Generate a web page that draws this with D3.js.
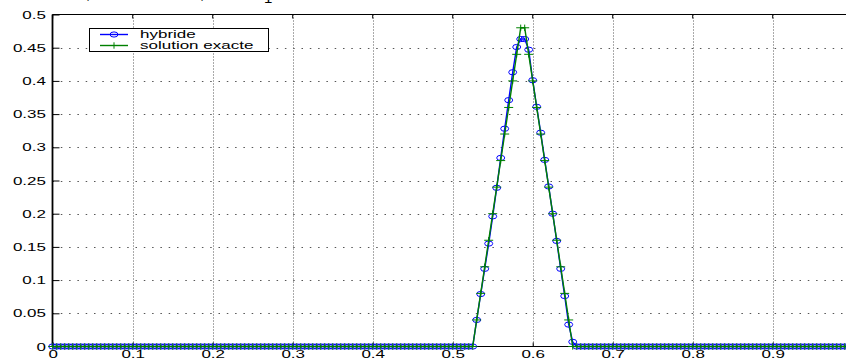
<!DOCTYPE html>
<html>
<head>
<meta charset="utf-8">
<script src="https://cdn.jsdelivr.net/npm/d3@7"></script>
<style>
  html, body { margin: 0; padding: 0; background: #fff; }
  svg { display: block; }
  text { font-family: "Liberation Sans", Arial, Helvetica, sans-serif; }
</style>
</head>
<body>
<svg id="chart" width="846" height="358"></svg>
<script>
// Sampling grid of the profile
const sampleStep = 0.005;
const sampleCount = 201;            // x = 0 … 1
const bumpStart = 0.525;            // first sample of the non-zero part

// Numerical (hybrid) solution on the bump, from x = 0.525 to 0.655
const hybrideBump = [
  0.000, 0.040, 0.079, 0.117, 0.155, 0.196, 0.239, 0.284, 0.328, 0.371,
  0.413, 0.451, 0.463, 0.463, 0.447, 0.401, 0.361, 0.322, 0.281, 0.241,
  0.200, 0.159, 0.117, 0.076, 0.033, 0.007, 0.000
];
// Exact solution on the same samples
const exacteBump = [
  0.00, 0.04, 0.08, 0.12, 0.16, 0.20, 0.24, 0.28, 0.32, 0.36,
  0.40, 0.44, 0.48, 0.48, 0.44, 0.40, 0.36, 0.32, 0.28, 0.24,
  0.20, 0.16, 0.12, 0.08, 0.04, 0.00, 0.00
];

const xTicks = [0, 0.1, 0.2, 0.3, 0.4, 0.5, 0.6, 0.7, 0.8, 0.9];
const xTickLabels = ["0", "0.1", "0.2", "0.3", "0.4", "0.5", "0.6", "0.7", "0.8", "0.9"];
const yTicks = [0, 0.05, 0.1, 0.15, 0.2, 0.25, 0.3, 0.35, 0.4, 0.45, 0.5];
const yTickLabels = ["0", "0.05", "0.1", "0.15", "0.2", "0.25", "0.3", "0.35", "0.4", "0.45", "0.5"];
const seriesNames = ["hybride", "solution exacte"];

// Expand a bump onto the full grid (zero outside it)
function fullSeries(bump) {
  const offset = Math.round(bumpStart / sampleStep);
  return d3.range(sampleCount).map(i => {
    const k = i - offset;
    return { x: i * sampleStep, y: (k >= 0 && k < bump.length) ? bump[k] : 0 };
  });
}
const hybride = fullSeries(hybrideBump);
const exacte = fullSeries(exacteBump);

const svg = d3.select("#chart");
const W = 846, H = 358;
const x = d3.scaleLinear().domain([0, 1]).range([52.7, 852.7]);
const y = d3.scaleLinear().domain([0, 0.5]).range([346.5, 14.5]);
const plotLeft = 52.5, plotTop = 14.5, plotBottom = 346.5;
const sx = 1.7;          // horizontal stretch of the lettering

const blue = "#0000ff", green = "#008000";

// Partial title at the top edge
const title = svg.append("g").attr("class", "title")
  .attr("font-family", "'Liberation Serif', 'DejaVu Serif', serif")
  .attr("font-size", 15).attr("fill", "#000");
title.append("text").attr("x", 86).attr("y", -1.2).text(",");
title.append("text").attr("x", 200).attr("y", -1.2).text(",");
title.append("text").attr("x", 264).attr("y", 2.5).text("1");

// Dotted grid
const grid = svg.append("g").attr("class", "grid");
grid.selectAll("line.gx").data(xTicks.slice(1)).join("line")
  .attr("class", "gx")
  .attr("x1", d => Math.round(x(d)) + 0.5).attr("x2", d => Math.round(x(d)) + 0.5)
  .attr("y1", plotTop).attr("y2", plotBottom)
  .attr("stroke", "#555").attr("stroke-width", 1)
  .attr("stroke-dasharray", "1,2");
grid.selectAll("line.gy").data(yTicks.slice(1, -1)).join("line")
  .attr("class", "gy")
  .attr("x1", plotLeft).attr("x2", W)
  .attr("y1", d => Math.round(y(d)) + 0.5).attr("y2", d => Math.round(y(d)) + 0.5)
  .attr("stroke", "#555").attr("stroke-width", 1.2)
  .attr("stroke-dasharray", "1.5,6.8");

// Axis frame
const frame = svg.append("g").attr("class", "frame").attr("stroke", "#000");
frame.append("line").attr("x1", plotLeft).attr("x2", W).attr("y1", plotTop).attr("y2", plotTop).attr("stroke-width", 1.2);
frame.append("line").attr("x1", plotLeft).attr("x2", W).attr("y1", plotBottom).attr("y2", plotBottom).attr("stroke-width", 1.2);
frame.append("line").attr("x1", plotLeft).attr("x2", plotLeft).attr("y1", plotTop).attr("y2", plotBottom).attr("stroke-width", 1.8);

// Bottom axis (inward ticks)
const xAxis = d3.axisBottom(x).tickValues(xTicks)
  .tickFormat((d, i) => xTickLabels[i]).tickSizeInner(-4).tickSizeOuter(0);
const gx = svg.append("g").attr("transform", `translate(0,${plotBottom})`).call(xAxis);
gx.select(".domain").remove();
gx.selectAll(".tick line").attr("stroke", "#000");
gx.selectAll(".tick text")
  .attr("y", 12).attr("dy", 0)
  .attr("transform", `scale(${sx},1)`)
  .attr("font-size", 10).attr("fill", "#000");
gx.attr("font-family", null);

// Top ticks
svg.append("g").selectAll("line").data(xTicks).join("line")
  .attr("x1", d => x(d)).attr("x2", d => x(d))
  .attr("y1", plotTop).attr("y2", plotTop + 4).attr("stroke", "#000");

// Left axis (inward ticks)
const yAxis = d3.axisLeft(y).tickValues(yTicks)
  .tickFormat((d, i) => yTickLabels[i]).tickSizeInner(-7).tickSizeOuter(0);
const gy = svg.append("g").attr("transform", `translate(${plotLeft},0)`).call(yAxis);
gy.select(".domain").remove();
gy.selectAll(".tick line").attr("stroke", "#000");
gy.selectAll(".tick text")
  .attr("x", -6.5 / sx).attr("dy", "0.35em")
  .attr("transform", `scale(${sx},1)`)
  .attr("font-size", 10).attr("fill", "#000");
gy.attr("font-family", null);

// Markers
function circleMarker(sel, color) {
  sel.append("ellipse").attr("rx", 4).attr("ry", 2.6)
    .attr("fill", "none").attr("stroke", color).attr("stroke-width", 1);
}
function plusMarker(sel, color) {
  sel.append("path").attr("d", "M-4.5,0H4.5M0,-3.2V3.2")
    .attr("fill", "none").attr("stroke", color).attr("stroke-width", 1);
}

const line = d3.line().x(d => x(d.x)).y(d => y(d.y));
const plot = svg.append("g").attr("class", "plot");

// Series 1: hybride
plot.append("path").datum(hybride).attr("d", line)
  .attr("fill", "none").attr("stroke", blue).attr("stroke-width", 1.4);
plot.append("g").selectAll("g").data(hybride).join("g")
  .attr("transform", d => `translate(${x(d.x)},${y(d.y)})`)
  .each(function () { circleMarker(d3.select(this), blue); });

// Series 2: exact solution
plot.append("path").datum(exacte).attr("d", line)
  .attr("fill", "none").attr("stroke", green).attr("stroke-width", 1.4);
plot.append("g").selectAll("g").data(exacte).join("g")
  .attr("transform", d => `translate(${x(d.x)},${y(d.y)})`)
  .each(function () { plusMarker(d3.select(this), green); });

// Legend
const legend = svg.append("g").attr("class", "legend");
legend.append("rect").attr("x", 89.5).attr("y", 28.5).attr("width", 179).attr("height", 23)
  .attr("fill", "#fff").attr("stroke", "#000").attr("stroke-width", 1);
const legendRows = [
  { name: seriesNames[0], color: blue, marker: circleMarker, cy: 34.5 },
  { name: seriesNames[1], color: green, marker: plusMarker, cy: 45.5 }
];
legendRows.forEach(r => {
  legend.append("line").attr("x1", 100).attr("x2", 128).attr("y1", r.cy).attr("y2", r.cy)
    .attr("stroke", r.color).attr("stroke-width", 1.4);
  const m = legend.append("g").attr("transform", `translate(114,${r.cy})`);
  r.marker(m, r.color);
  legend.append("text")
    .attr("transform", `translate(140,${r.cy + 3.6}) scale(${sx},1)`)
    .attr("font-size", 10).attr("fill", "#000").text(r.name);
});
</script>
</body>
</html>
